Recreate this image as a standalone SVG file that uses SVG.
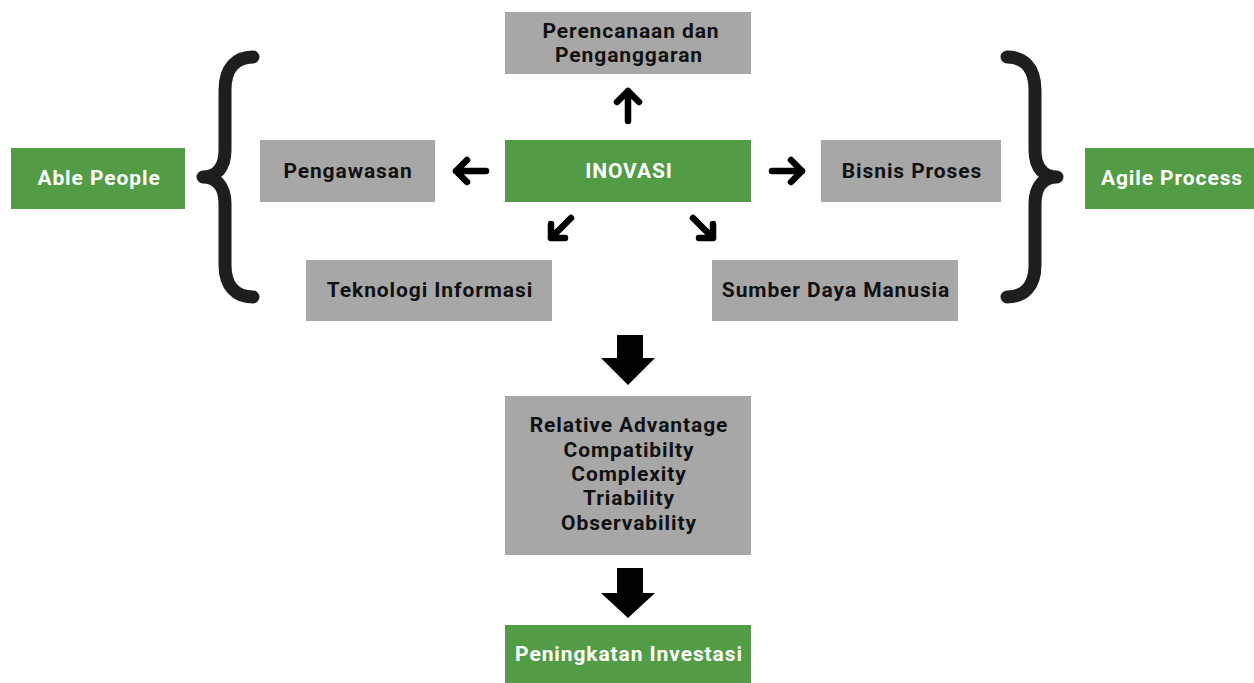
<svg xmlns="http://www.w3.org/2000/svg" width="1254" height="683" viewBox="0 0 1254 683">
<style>
.g{fill:#a7a7a7}
.gr{fill:#519c45}
.t{font-family:Roboto,"Liberation Sans",sans-serif;font-weight:bold;font-size:21px;letter-spacing:0.9px;text-anchor:middle;fill:#111}
.w{fill:#fff}
.a{stroke:#000;stroke-width:6.5;fill:none;stroke-linecap:round;stroke-linejoin:round}
.b{stroke:#1e1e1e;stroke-width:13;fill:none;stroke-linecap:round;stroke-linejoin:round}
</style>
<rect width="1254" height="683" fill="#fff"/>
<g id="perencanaan"><rect class="g" x="505" y="12" width="246" height="62"/><text class="t" x="631" y="38">Perencanaan dan</text><text class="t" x="629" y="62">Penganggaran</text></g>
<g id="inovasi"><rect class="gr" x="505" y="140" width="246" height="62"/><text class="t w" x="629" y="178">INOVASI</text></g>
<g id="pengawasan"><rect class="g" x="260" y="140" width="175" height="62"/><text class="t" x="348" y="178">Pengawasan</text></g>
<g id="bisnis"><rect class="g" x="821" y="140" width="180" height="62"/><text class="t" x="912" y="178">Bisnis Proses</text></g>
<g id="teknologi"><rect class="g" x="306" y="260" width="246" height="61"/><text class="t" x="430" y="297">Teknologi Informasi</text></g>
<g id="sdm"><rect class="g" x="712" y="260" width="246" height="61"/><text class="t" x="836" y="297">Sumber Daya Manusia</text></g>
<g id="able"><rect class="gr" x="11" y="148" width="174" height="61"/><text class="t w" x="99" y="185">Able People</text></g>
<g id="agile"><rect class="gr" x="1085" y="148" width="169" height="61"/><text class="t w" x="1172" y="185">Agile Process</text></g>
<g id="attributes"><rect class="g" x="505" y="396" width="246" height="159"/>
<text class="t" x="629" y="432">Relative Advantage</text>
<text class="t" x="629" y="457">Compatibilty</text>
<text class="t" x="629" y="481">Complexity</text>
<text class="t" x="629" y="505">Triability</text>
<text class="t" x="629" y="530">Observability</text></g>
<g id="peningkatan"><rect class="gr" x="505" y="625" width="246" height="58"/><text class="t w" x="629" y="661">Peningkatan Investasi</text></g>
<g id="connectors">
<path class="a" d="M628,121 V91 M617,102 L628,91 L639,102"/>
<path class="a" d="M486,171 H456 M467,160 L456,171 L467,182"/>
<path class="a" d="M772,171 H802 M791,160 L802,171 L791,182"/>
<path class="a" d="M571,218 L551,238 M551,224 V238 H565"/>
<path class="a" d="M693,218 L713,238 M713,224 V238 H699"/>
<path fill="#000" d="M617,335 H643 V358 H655 L628,385 L601,358 H617 Z"/>
<path fill="#000" d="M617,568 H643 V593 H655 L628,618 L601,593 H617 Z"/>
<path class="b" d="M253,57 C236,57 225,68 225,90 L225,150 C225,168 216,177 203,177 C216,177 225,186 225,204 L225,265 C225,286 236,297 253,297"/>
<path class="b" d="M1007,57 C1024,57 1035,68 1035,90 L1035,150 C1035,168 1044,177 1057,177 C1044,177 1035,186 1035,204 L1035,265 C1035,286 1024,297 1007,297"/>
</g>
</svg>
